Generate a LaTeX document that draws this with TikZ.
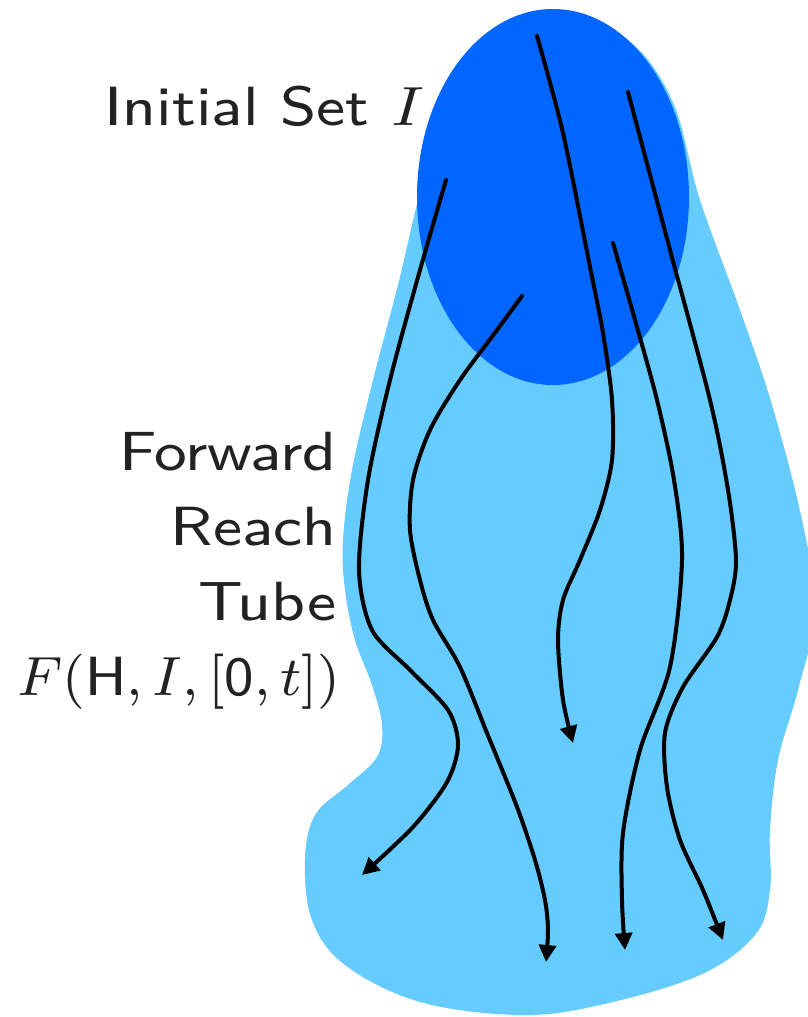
\documentclass[tikz,border=0pt]{standalone}
\usetikzlibrary{arrows.meta}
\definecolor{tubeBlue}{HTML}{66CCFF}
\definecolor{initBlue}{HTML}{0066FF}
\definecolor{labelInk}{HTML}{222222}

\begin{document}
\begin{tikzpicture}[x=1pt,y=-1pt,>={Triangle[length=17pt,width=17pt]},line cap=round,line join=round]
\useasboundingbox[fill=white] (0,0) rectangle (807,1017);
\tikzset{tube/.style={fill=tubeBlue},initset/.style={fill=initBlue},traj/.style={draw=black,line width=4pt,->},lbl/.style={anchor=base east,text=labelInk,font=\fontsize{8}{10}\selectfont\sffamily,inner sep=0pt,xscale=7.7,yscale=6.9}}
% reach tube
\path[tube] plot[smooth cycle,tension=0.6] coordinates {(548,12) (625,38) (672,100) (700,200) (740,310) (772,405) (802,520) (815,610) (798,690) (778,760) (770,830) (770,890) (755,935) (700,975) (600,1005) (520,1015) (420,1002) (345,965) (312,920) (305,860) (315,815) (348,785) (377,757) (382,725) (372,685) (355,640) (345,590) (343,540) (352,470) (373,380) (398,285) (425,175) (465,65)};
% initial set
\path[initset] (553,197) ellipse [x radius=136,y radius=188];
% trajectories
\draw[traj] plot[smooth] coordinates {(446,180) (420,270) (390,380) (368,480) (359,570) (372,630) (410,670) (448,710) (458,745) (447,782) (413,827) (362,875)};
\draw[traj] plot[smooth] coordinates {(522,296) (497,330) (460,380) (430,430) (413,480) (410,530) (420,580) (433,620) (460,667) (487,733) (517,807) (535,860) (545,900) (548,930) (546,962)};
\draw[traj] plot[smooth] coordinates {(537,36) (563,133) (590,267) (603,333) (612,400) (612,460) (600,510) (580,560) (563,600) (558,640) (563,700) (573,743)};
\draw[traj] plot[smooth] coordinates {(613,243) (635,320) (657,400) (674,480) (682,560) (670,667) (640,750) (623,833) (622,900) (625,950)};
\draw[traj] plot[smooth] coordinates {(628,92) (670,250) (710,400) (728,490) (736,560) (730,600) (717,637) (683,687) (665,733) (667,787) (680,840) (703,890) (723,940)};
% labels
\node[lbl] (initlbl) at (426,125) {Initial Set $I$};
\node[lbl] (fwdlbl) at (338,470) {Forward};
\node[lbl] (reachlbl) at (338,545) {Reach};
\node[lbl] (tubelbl) at (338,620) {Tube};
\node[lbl,xscale=6.9/7.7] (setlbl) at (342,695) {$F(\mathsf{H},I,[\mathsf{0},t])$};
\end{tikzpicture}
\end{document}
